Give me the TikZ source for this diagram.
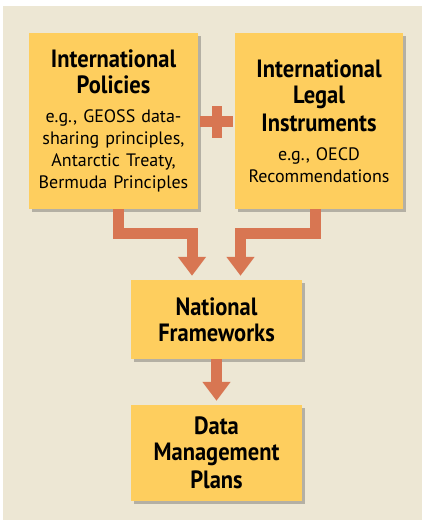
\documentclass[tikz,border=0pt]{standalone}
\usepackage{fontspec}
\setmainfont{PT Sans}
\newfontfamily\headfont[FakeStretch=0.9]{PT Sans}
\usetikzlibrary{arrows.meta,shadows}

\definecolor{panelbg}{RGB}{237,231,212}
\definecolor{boxfill}{RGB}{254,206,94}
\definecolor{flowred}{RGB}{216,118,82}

\tikzset{
  box/.style={fill=boxfill, inner sep=0pt, align=center, font=\boxbody,
    drop shadow={shadow xshift=3pt, shadow yshift=-3pt, opacity=0.35, fill=black!70}},
  flow/.style={draw=flowred, line width=11pt, line join=miter,
    -{Triangle[length=19pt,width=27pt]}, shorten >=4pt}
}
\newcommand{\boxhead}{\headfont\fontsize{25}{26}\selectfont\bfseries}
\newcommand{\boxbody}{\fontsize{18}{22}\selectfont}

\begin{document}
\begin{tikzpicture}[x=1pt,y=-1pt]
\useasboundingbox (0,0) rectangle (423,521);
\fill[panelbg] (3,6) rectangle (422,520);

\node[box,minimum width=169pt,minimum height=176pt,text width=165pt] (pol) at (113.5,121)
  {{\boxhead International}\\[4pt]{\boxhead Policies}\\[7pt]
   e.g., GEOSS data-\\sharing principles,\\
   Antarctic Treaty,\\Bermuda Principles};
\node[box,minimum width=168pt,minimum height=176pt,text width=164pt] (leg) at (319,121)
  {{\boxhead International}\\[4pt]{\boxhead Legal}\\[4pt]{\boxhead Instruments}\\[7pt]
   e.g., OECD\\Recommendations};
\node[box,minimum width=171pt,minimum height=79pt,text width=167pt] (nat) at (216.5,319.5)
  {{\boxhead National}\\[4pt]{\boxhead Frameworks}};
\node[box,minimum width=171pt,minimum height=96pt,text width=167pt] (dmp) at (216.5,453)
  {{\boxhead Data}\\[4pt]{\boxhead Management}\\[4pt]{\boxhead Plans}};

% plus sign between the two top boxes
\coordinate (plus) at (216.5,122);
\fill[flowred] ([xshift=-5pt,yshift=-16pt]plus) rectangle ([xshift=5pt,yshift=16pt]plus);
\fill[flowred] ([xshift=-16.5pt,yshift=-5.5pt]plus) rectangle ([xshift=16.5pt,yshift=5.5pt]plus);

% arrows
\draw[flow] ([xshift=5pt]pol.south) -- ++(0,24) -| ([xshift=-24.5pt]nat.north);
\draw[flow] ([xshift=-4pt]leg.south) -- ++(0,24) -| ([xshift=24pt]nat.north);
\draw[flow] (nat.south) -- (dmp.north);
\end{tikzpicture}
\end{document}
